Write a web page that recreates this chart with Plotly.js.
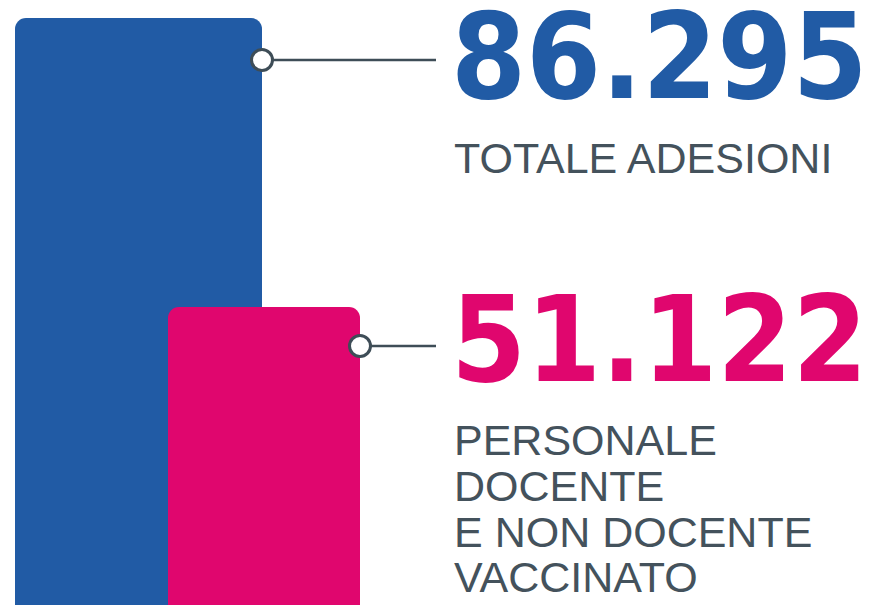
<!DOCTYPE html>
<html>
<head>
<meta charset="utf-8">
<script src="https://cdn.plot.ly/plotly-3.0.1.min.js"></script>
<style>html,body{margin:0;padding:0;background:#fff;}#chart{width:873px;height:605px;}</style>
</head>
<body>
<div id="chart"></div>
<script>
// ---- data ----
const categories = ['TOTALE ADESIONI', 'PERSONALE DOCENTE E NON DOCENTE VACCINATO'];
const values = [86295, 51122];
const labelLines = [
  ['TOTALE ADESIONI'],
  ['PERSONALE', 'DOCENTE', 'E NON DOCENTE', 'VACCINATO']
];
const colors = ['#215BA5', '#E0066E'];

// ---- layout helpers ----
const W = 873, H = 605;
const px = x => x / W;
const py = y => 1 - y / H;
function fmt(v) { return String(v).replace(/\B(?=(\d{3})+(?!\d))/g, '.'); }

const barCenters = [138.5, 264];
const barWidths = [247, 192];
const connectorY = [60, 346];
const numberMid = [56, 339];
const labelMids = [[158], [440, 486, 532, 577]];
const numX = 449;
const textX = 452;
const lineEnd = 436;
const grey = '#44525C';
const lineGrey = '#3E4D57';

const traces = values.map((v, i) => ({
  type: 'bar',
  x: [barCenters[i]],
  y: [v],
  width: [barWidths[i]],
  name: categories[i],
  marker: { color: colors[i], cornerradius: 11, line: { width: 0 } },
  hoverinfo: 'skip'
}));

const shapes = [];
const annotations = [];
values.forEach((v, i) => {
  const edge = barCenters[i] + barWidths[i] / 2;
  shapes.push({
    type: 'line', xref: 'x', yref: 'paper',
    x0: edge, x1: lineEnd, y0: py(connectorY[i]), y1: py(connectorY[i]),
    line: { color: lineGrey, width: 2.5 }
  });
  shapes.push({
    type: 'circle', xref: 'x', yref: 'paper',
    x0: edge - 10.5, x1: edge + 10.5,
    y0: py(connectorY[i] + 10.5), y1: py(connectorY[i] - 10.5),
    fillcolor: '#FFFFFF', line: { color: lineGrey, width: 3 }
  });
  annotations.push({
    xref: 'paper', yref: 'paper', x: px(numX), y: py(numberMid[i]),
    xanchor: 'left', yanchor: 'middle', showarrow: false,
    height: 100, valign: 'middle',
    text: fmt(v),
    font: { family: 'DejaVu Sans Condensed, Liberation Sans, Arial, sans-serif', size: 120, weight: 'bold', color: colors[i] }
  });
  labelLines[i].forEach((t, j) => {
    annotations.push({
      xref: 'paper', yref: 'paper', x: px(textX), y: py(labelMids[i][j]),
      xanchor: 'left', yanchor: 'middle', showarrow: false,
      text: t,
      font: { family: 'Liberation Sans, Arial, sans-serif', size: 43, color: grey }
    });
  });
});

// value 0 lies below the visible area, so the bars run off the bottom edge
const pxPerUnit = (727 - 18) / values[0];
const layout = {
  width: W, height: H,
  margin: { l: 0, r: 0, t: 0, b: 0, pad: 0 },
  paper_bgcolor: '#FFFFFF', plot_bgcolor: '#FFFFFF',
  showlegend: false,
  barmode: 'overlay',
  xaxis: { range: [0, W], visible: false, fixedrange: true },
  yaxis: { range: [(727 - H) / pxPerUnit, values[0] + 18 / pxPerUnit], visible: false, fixedrange: true },
  shapes: shapes,
  annotations: annotations
};

Plotly.newPlot('chart', traces, layout, { displayModeBar: false, staticPlot: true });
</script>
</body>
</html>
